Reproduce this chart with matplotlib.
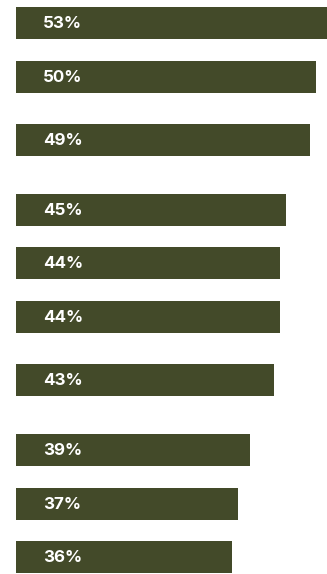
import matplotlib.pyplot as plt

# share values, top to bottom
values = [53, 50, 49, 45, 44, 44, 43, 39, 37, 36]
labels = ['53%', '50%', '49%', '45%', '44%', '44%', '43%', '39%', '37%', '36%']

# vertical row centres in pixels (rows are not evenly spaced in the source)
rows = [23, 77, 140, 210, 263, 317, 380, 450, 504, 557]

BAR_COLOR = '#434a29'
W, H = 327, 574

fig = plt.figure(figsize=(W / 100, H / 100), dpi=100)
# axes starts at the bar baseline (x = 16 px)
ax = fig.add_axes([16 / W, 0, 1 - 16 / W, 1])
ax.set_xlim(0, (W - 16) / 6.0)
ax.set_ylim(H, 0)
ax.axis('off')

ax.barh(rows, values, height=32, color=BAR_COLOR, left=0)

for y, lab in zip(rows, labels):
    ax.annotate(lab, xy=(0, y), xytext=(27 * 0.72, -0.5), textcoords='offset points',
                ha='left', va='center', color='white', fontsize=12.2,
                fontweight='bold', family=['Inter', 'DejaVu Sans'])

fig.savefig('out.png', dpi=100)
